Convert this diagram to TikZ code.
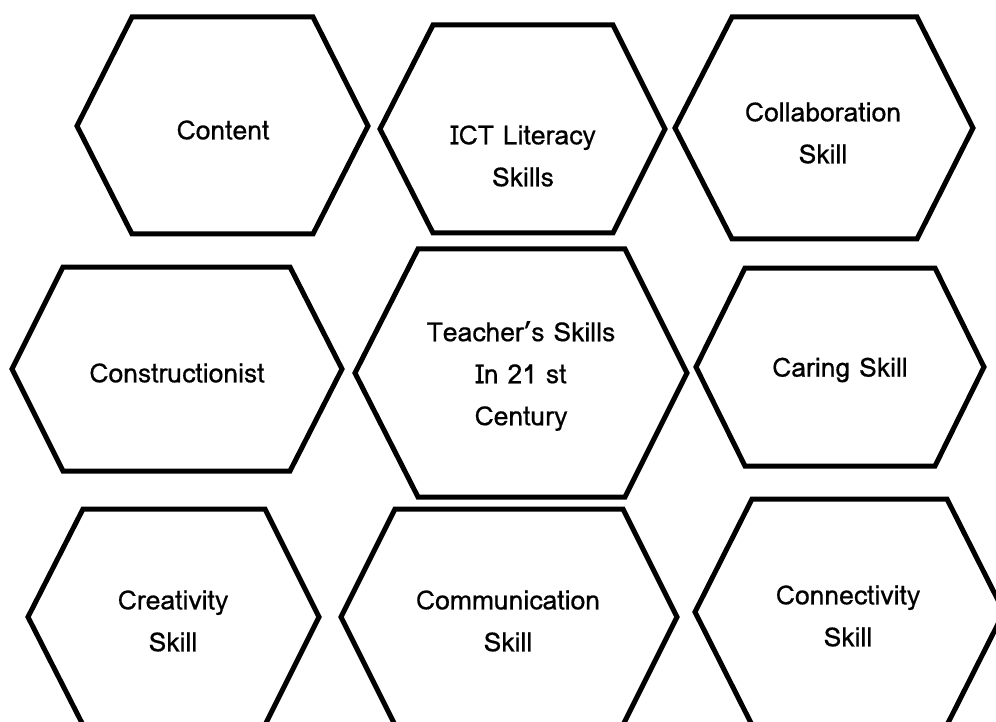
\documentclass[tikz,border=0pt]{standalone}
\usepackage{fontspec}
\newfontfamily\hexfont[Script=Thai,FakeBold=0.6]{Loma}
\begin{document}
\begin{tikzpicture}[x=1pt,y=-1pt,
  hexline/.style={draw=black,line width=5pt,line join=miter,fill=white},
  hexlabel/.style={font=\hexfont\fontsize{26.5}{42}\selectfont,align=center,inner sep=0pt}]
\clip (0,0) rectangle (996,722);
\fill[white] (0,0) rectangle (996,722);
% #1 left x, #2 mid y, #3 top y, #4 top-left x, #5 top-right x, #6 right x, #7 bottom y
\newcommand\hexa[7]{\draw[hexline] (#1,#2) -- (#4,#3) -- (#5,#3) -- (#6,#2) -- (#5,#7) -- (#4,#7) -- cycle;}
\hexa{77}{126}{17}{132}{313}{368}{234}
\hexa{380}{129}{25}{433}{613}{665}{233}
\hexa{675}{128}{17}{732}{917}{973}{239}
\hexa{12}{369}{267}{63}{290}{342}{471}
\hexa{355}{373}{249}{418}{625}{687}{497}
\hexa{696}{367}{268}{745}{935}{984}{466}
\hexa{28}{617}{509}{83}{265}{319}{725}
\hexa{341}{617}{509}{395}{623}{677}{725}
\hexa{695}{612}{499}{752}{947}{1004}{725}
\node[hexlabel] (content) at (223,130) {Content};
\node[hexlabel] (ict) at (523,156) {ICT Literacy\\Skills};
\node[hexlabel] (collab) at (823,133) {Collaboration\\Skill};
\node[hexlabel] (constr) at (177,373) {Constructionist};
\node[hexlabel] (teacher) at (521,376) {Teacher’s Skills\\In 21 st\\Century};
\node[hexlabel] (caring) at (840,370) {Caring Skill};
\node[hexlabel] (creat) at (173,621) {Creativity\\Skill};
\node[hexlabel] (comm) at (508,621) {Communication\\Skill};
\node[hexlabel] (conn) at (848,616) {Connectivity\\Skill};
\end{tikzpicture}
\end{document}
